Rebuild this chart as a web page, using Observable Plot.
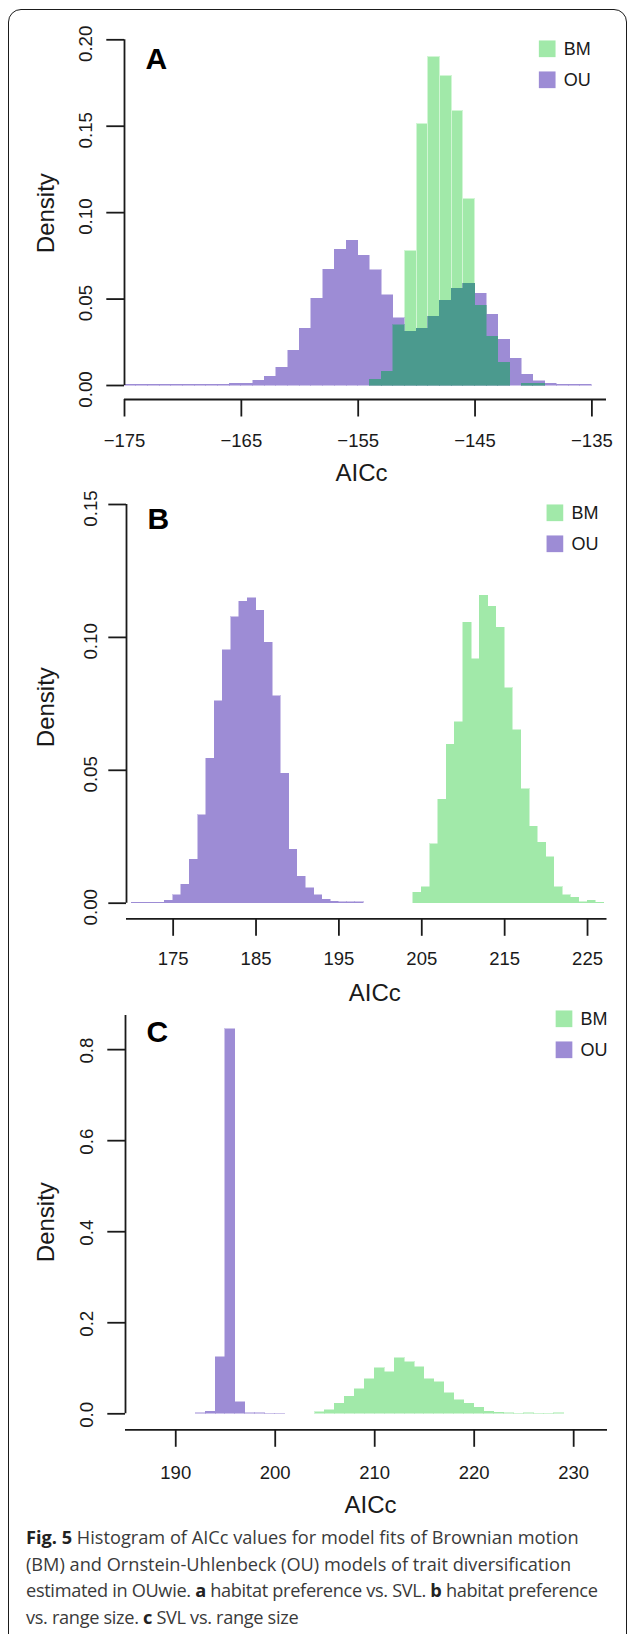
<!DOCTYPE html>
<html>
<head>
<meta charset="utf-8">
<script src="https://cdn.jsdelivr.net/npm/d3@7"></script>
<script src="https://cdn.jsdelivr.net/npm/@observablehq/plot@0.6"></script>
<style>
  body { margin: 0; background: #fff; }
  #fig { position: relative; width: 627px; height: 1634px; overflow: hidden; font-family: "Liberation Sans", Arial, sans-serif; }
  #border { position: absolute; left: 8px; top: 9px; width: 619px; height: 1700px; border: 1.7px solid #1b1b1b; border-radius: 13px; box-sizing: border-box; }
  .panel { position: absolute; left: 0; }
  #caption { position: absolute; left: 26px; top: 1524px; font-family: "Open Sans", Lato, sans-serif; font-size: 18.2px; color: #3a3a3a; line-height: 26.6px; white-space: nowrap; }
  #caption b { color: #222; }
  #caption .tight { letter-spacing: -0.33px; }
</style>
</head>
<body>
<div id="fig">
  <div id="border"></div>
  <div id="pA" class="panel" style="top:0px"></div>
  <div id="pB" class="panel" style="top:490px"></div>
  <div id="pC" class="panel" style="top:1000px"></div>
  <div id="caption">
    <div><b>Fig. 5</b> Histogram of AICc values for model fits of Brownian motion</div>
    <div>(BM) and Ornstein-Uhlenbeck (OU) models of trait diversification</div>
    <div class="tight">estimated in OUwie. <b>a</b> habitat preference vs. SVL. <b>b</b> habitat preference</div>
    <div class="tight">vs. range size. <b>c</b> SVL vs. range size</div>
  </div>
</div>
<script>
// ---------- data ----------
const seriesNames = ["BM", "OU"];
const binWidth = 1;

// Panel A: habitat preference vs. SVL
const binsOU_A = [-175,-174,-173,-172,-171,-170,-169,-168,-167,-166,-165,-164,-163,-162,-161,-160,-159,-158,-157,-156,-155,-154,-153,-152,-151,-150,-149,-148,-147,-146,-145,-144,-143,-142,-141,-140,-139,-138,-137,-136];
const densOU_A = [0.0003,0.0005,0.0005,0.0005,0.0005,0.0005,0.0005,0.0005,0.0005,0.0011,0.0011,0.0028,0.0052,0.0104,0.0200,0.0328,0.0501,0.0669,0.0785,0.0837,0.0752,0.0667,0.0523,0.0388,0.0312,0.0328,0.0397,0.0490,0.0560,0.0588,0.0530,0.0410,0.0266,0.0154,0.0062,0.0025,0.0010,0.0003,0.0003,0.0003];
const binsBM_A = [-154,-153,-152,-151,-150,-149,-148,-147,-146,-145,-144,-143,-142,-141,-140];
const densBM_A = [0.0033,0.0079,0.0350,0.0781,0.1510,0.1898,0.1788,0.1590,0.1080,0.0461,0.0282,0.0131,0,0.0010,0.0010];
const xTicksA = [-175,-165,-155,-145,-135];
const yTicksA = [0,0.05,0.10,0.15,0.20];

// Panel B: habitat preference vs. range size
const binsOU_B = [170,171,172,173,174,175,176,177,178,179,180,181,182,183,184,185,186,187,188,189,190,191,192,193,194,195,196,197];
const densOU_B = [0.0002,0.0002,0.0002,0.0002,0.0010,0.0029,0.0070,0.0164,0.0330,0.0544,0.0760,0.0951,0.1075,0.1134,0.1147,0.1100,0.0979,0.0779,0.0487,0.0202,0.0100,0.0056,0.0029,0.0013,0.0005,0.0003,0.0003,0.0003];
const binsBM_B = [204,205,206,207,208,209,210,211,212,213,214,215,216,217,218,219,220,221,222,223,224,225,226];
const densBM_B = [0.0040,0.0060,0.0221,0.0390,0.0597,0.0680,0.1056,0.0917,0.1157,0.1116,0.1037,0.0808,0.0650,0.0428,0.0288,0.0228,0.0172,0.0060,0.0029,0.0021,0.0003,0.0010,0.0002];
const xTicksB = [175,185,195,205,215,225];
const yTicksB = [0,0.05,0.10,0.15];

// Panel C: SVL vs. range size
const binsOU_C = [192,193,194,195,196,197,198,199,200];
const densOU_C = [0.0007,0.0050,0.1238,0.8447,0.0256,0.0007,0.0007,0.0002,0.0002];
const binsBM_C = [204,205,206,207,208,209,210,211,212,213,214,215,216,217,218,219,220,221,222,223,224,225,226,227,228];
const densBM_C = [0.0030,0.0073,0.0225,0.0380,0.0535,0.0762,0.0996,0.0908,0.1223,0.1128,0.1018,0.0755,0.0689,0.0447,0.0293,0.0220,0.0132,0.0048,0.0022,0.0007,0.0003,0.0007,0.0003,0.0003,0.0007];
const xTicksC = [190,200,210,220,230];
const yTicksC = [0,0.2,0.4,0.6,0.8];

// ---------- styles ----------
const colBM = "#a1e9a9";
const colOU = "#9d8cd5";
const colOverlap = "#4b9a8e";
const ink = "#1a1a1a";

const minusFmt = d => (d < 0 ? "\u2212" : "") + Math.abs(d);

function toBins(los, vals) {
  return los.map((lo, i) => ({lo, hi: lo + binWidth, d: vals[i]}));
}

function makePanel(cfg) {
  const bm = toBins(cfg.binsBM, cfg.densBM).filter(b => b.d > 0);
  const ou = toBins(cfg.binsOU, cfg.densOU).filter(b => b.d > 0);
  const crisp = {shapeRendering: "crispEdges", inset: 0, strokeWidth: 1, strokeOpacity: 0.5};
  const marks = [
    cfg.overlap
      ? Plot.rectY(bm, {x1: "lo", x2: "hi", y: "d", fill: colBM, ...crisp, stroke: "#d2f6d5", strokeOpacity: 1})
      : Plot.rectY(bm, {x1: "lo", x2: "hi", y: "d", fill: colBM, stroke: colBM, ...crisp}),
    Plot.rectY(ou, {x1: "lo", x2: "hi", y: "d", fill: colOU, stroke: colOU, ...crisp})
  ];
  if (cfg.overlap) {
    const bmByLo = new Map(bm.map(b => [b.lo, b.d]));
    const ov = ou.filter(b => bmByLo.has(b.lo)).map(b => ({lo: b.lo, hi: b.hi, d: Math.min(b.d, bmByLo.get(b.lo))}));
    marks.push(Plot.rectY(ov, {x1: "lo", x2: "hi", y: "d", fill: colOverlap, stroke: colOverlap, ...crisp}));
  }
  const yTop = cfg.yDomain[1];
  marks.push(
    // y axis line
    Plot.ruleX([cfg.xDomain[0]], {y1: 0, y2: yTop, stroke: ink, strokeWidth: 1.8}),
    Plot.axisY({ticks: cfg.yTicks, tickSize: 17.7, tickFormat: () => "", label: null, stroke: ink, strokeWidth: 1.8}),
    Plot.text(cfg.yTicks, {y: d => d, text: d3.format(cfg.yFmt), frameAnchor: "left", rotate: -90, textAnchor: "middle", lineAnchor: "bottom", dx: cfg.yLabDx, dy: cfg.yLabDy, fontSize: 18.7, fill: ink}),
    // x axis line + ticks
    Plot.ruleY([0], {dy: cfg.inset, stroke: ink, strokeWidth: 1.8}),
    Plot.axisX({ticks: cfg.xTicks, tickSize: 17.5, tickPadding: cfg.xPad, tickFormat: minusFmt, label: null, stroke: ink, strokeWidth: 1.8, fontSize: 18.5, fill: ink}),
    // titles
    Plot.text(["Density"], {frameAnchor: "left", rotate: -90, textAnchor: "middle", lineAnchor: "bottom", dx: cfg.densDx, dy: cfg.densDy, fontSize: 24, fill: ink}),
    Plot.text(["AICc"], {frameAnchor: "bottom", lineAnchor: "middle", dx: cfg.titleDx, dy: cfg.titleDy, fontSize: 24, fill: ink}),
    // panel letter
    Plot.text([cfg.letter], {frameAnchor: "top-left", textAnchor: "start", lineAnchor: "top", dx: 21, dy: cfg.letterDy, fontSize: 30, fontWeight: "bold", fill: "#000"})
  );
  // legend
  const legCols = [colBM, colOU];
  seriesNames.forEach((name, i) => {
    marks.push(
      Plot.dot([name], {frameAnchor: "top-left", dx: cfg.legDx, dy: cfg.legDy + i * 31, symbol: "square", r: 9.42, fill: legCols[i], stroke: "none"}),
      Plot.text([name], {frameAnchor: "top-left", dx: cfg.legDx + 16.6, dy: cfg.legDy + i * 31 + 0.5, textAnchor: "start", lineAnchor: "middle", fontSize: 18, fill: ink})
    );
  });
  const svg = Plot.plot({
    width: 627,
    height: cfg.height,
    marginTop: cfg.marginTop,
    marginBottom: cfg.marginBottom,
    marginLeft: cfg.marginLeft,
    marginRight: cfg.marginRight,
    x: {domain: cfg.xDomain, label: null},
    y: {domain: cfg.yDomain, insetBottom: cfg.inset, label: null},
    style: {fontFamily: "'Liberation Sans', Arial, sans-serif", fontSize: "18.5px", color: ink, background: "none", overflow: "visible"},
    marks
  });
  document.getElementById(cfg.el).appendChild(svg);
}

makePanel({
  el: "pA", letter: "A", height: 490, marginTop: 39.3, marginBottom: 91, marginLeft: 124, marginRight: 21, inset: 14,
  xDomain: [-175, -133.75], yDomain: [0, 0.2],
  binsOU: binsOU_A, densOU: densOU_A, binsBM: binsBM_A, densBM: densBM_A, overlap: true,
  xTicks: xTicksA, yTicks: yTicksA, yFmt: ".2f",
  yLabDx: -32.3, yLabDy: 4, xPad: 17, densDx: -71, densDy: -6.5, titleDx: -4, titleDy: 74.3,
  letterDy: 7.7, legDx: 422.7, legDy: 9
});
makePanel({
  el: "pB", letter: "B", height: 520, marginTop: 14, marginBottom: 91.7, marginLeft: 126, marginRight: 20.5, inset: 15.6,
  xDomain: [169.37, 227.35], yDomain: [0, 0.15],
  binsOU: binsOU_B, densOU: densOU_B, binsBM: binsBM_B, densBM: densBM_B, overlap: false,
  xTicks: xTicksB, yTicks: yTicksB, yFmt: ".2f",
  yLabDx: -30, yLabDy: 4, xPad: 16, densDx: -73, densDy: -4.5, titleDx: 8, titleDy: 74.7,
  letterDy: 3, legDx: 428.4, legDy: 8.3
});
makePanel({
  el: "pC", letter: "C", height: 520, marginTop: 15, marginBottom: 90.7, marginLeft: 125, marginRight: 20, inset: 16,
  xDomain: [184.95, 233.4], yDomain: [0, 0.875],
  binsOU: binsOU_C, densOU: densOU_C, binsBM: binsBM_C, densBM: densBM_C, overlap: false,
  xTicks: xTicksC, yTicks: yTicksC, yFmt: ".1f",
  yLabDx: -32.2, yLabDy: 1, xPad: 18.3, densDx: -72, densDy: -0.5, titleDx: 4, titleDy: 75.7,
  letterDy: 5.5, legDx: 438.5, legDy: 3.3
});
</script>
</body>
</html>
